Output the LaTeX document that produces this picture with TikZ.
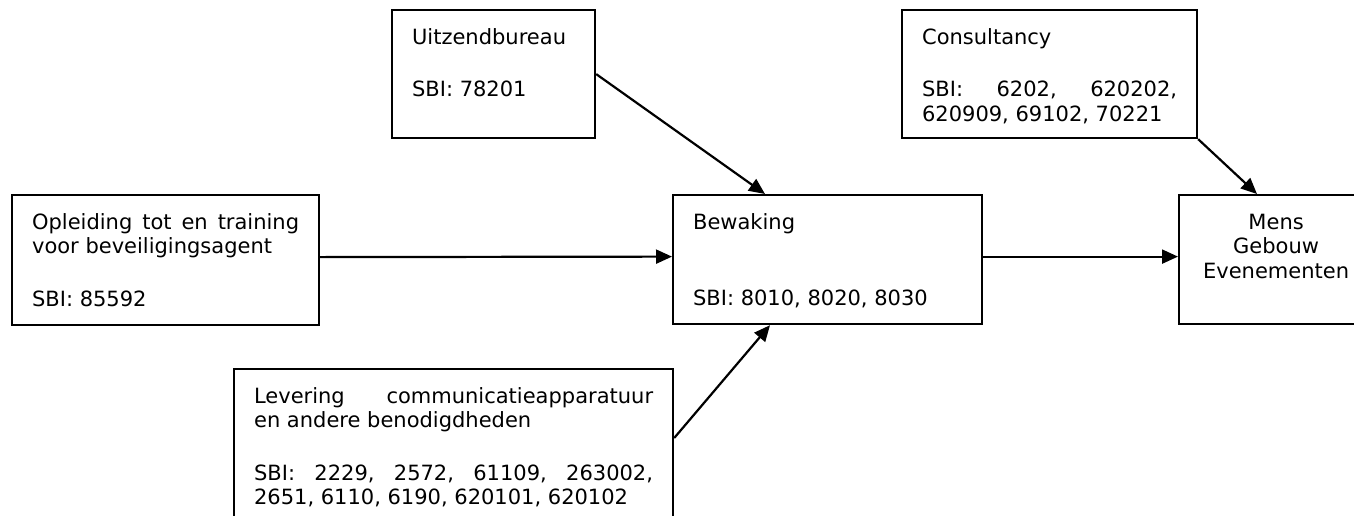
\documentclass[tikz,border=0pt]{standalone}
\usepackage{fontspec}
\setmainfont{DejaVu Sans}
\usetikzlibrary{arrows.meta}

\newcommand{\boxtext}[3]{\parbox[t][#2][t]{#1}{\strut #3}}

\begin{document}
\begin{tikzpicture}[x=1pt, y=-1pt,
    >={Triangle[length=16pt, width=14pt]},
    sector/.style={draw, line width=2.2pt, anchor=north west, inner xsep=20pt, inner ysep=17pt,
      font=\fontsize{21}{24.5}\selectfont},
    flow/.style={->, line width=2.2pt}]
      \useasboundingbox (0,0) rectangle (1354,515);
      \clip (0,0) rectangle (1354,515);
      \node[sector] (uitz) at (391,9) {\boxtext{163pt}{94pt}{Uitzendbureau\\[28pt]SBI: 78201}};
      \node[sector] (cons) at (901,9) {\boxtext{255pt}{94pt}{Consultancy\\[28pt]SBI: \hfill 6202, \hfill 620202,\\620909, 69102, 70221}};
      \node[sector] (opl) at (11,194) {\boxtext{267pt}{96pt}{Opleiding \hfill tot \hfill en \hfill training\\voor beveiligingsagent\\[28pt]SBI: 85592}};
      \node[sector] (bew) at (672,194) {\boxtext{269pt}{95pt}{Bewaking\\[51.5pt]SBI: 8010, 8020, 8030}};
      \node[sector] (mens) at (1178,194) {\boxtext{154pt}{95pt}{\centering Mens\\Gebouw\\Evenementen}};
      \node[sector] (lev) at (233,368) {\boxtext{399pt}{128pt}{Levering \hfill communicatieapparatuur\\en andere benodigdheden\\[28pt]SBI: \hfill 2229, \hfill 2572, \hfill 61109, \hfill 263002,\\2651, 6110, 6190, 620101, 620102}};
      \draw[flow] ([yshift=3pt]opl.east) -- ([yshift=3pt]bew.west);
      \draw[flow] ([yshift=3pt]bew.east) -- ([yshift=3pt]mens.west);
      \draw[flow] (uitz.east) -- ([xshift=93pt]bew.north west);
      \draw[flow] ([yshift=-70pt]lev.north east) -- ([xshift=98pt]bew.south west);
      \draw[flow] (cons.south east) -- ([xshift=79pt]mens.north west);
    \end{tikzpicture}
\end{document}
